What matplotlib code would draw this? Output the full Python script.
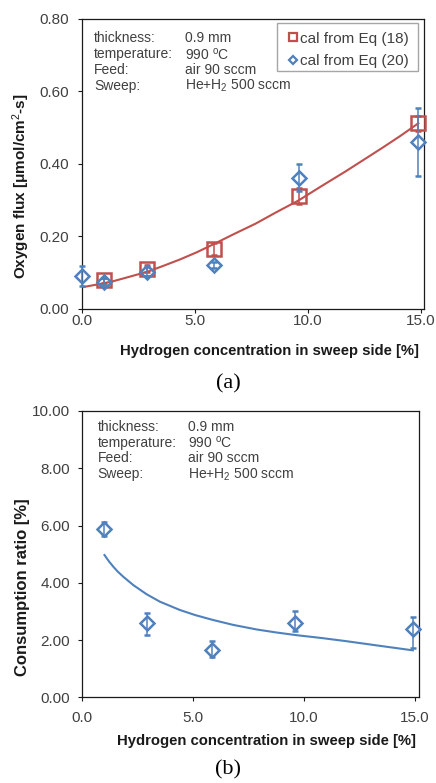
import matplotlib
matplotlib.use('Agg')
import matplotlib.pyplot as plt
from matplotlib.lines import Line2D
from matplotlib.patches import Rectangle

plt.rcParams['font.family'] = ['Liberation Sans', 'DejaVu Sans']
plt.rcParams['mathtext.fontset'] = 'custom'
plt.rcParams['mathtext.rm'] = 'Liberation Sans'
plt.rcParams['mathtext.it'] = 'Liberation Sans:italic'
plt.rcParams['mathtext.bf'] = 'Liberation Sans:bold'

# ---------------- data ----------------
# (a) oxygen flux
h2_eq18 = [1.0, 2.9, 5.85, 9.6, 14.9]
flux_eq18 = [0.078, 0.110, 0.164, 0.312, 0.512]
flux_eq18_err = [0.008, 0.010, 0.017, 0.022, 0.020]

h2_eq20 = [0.0, 1.0, 2.9, 5.85, 9.6, 14.9]
flux_eq20 = [0.090, 0.075, 0.102, 0.121, 0.362, 0.461]
flux_eq20_err = [0.028, 0.010, 0.012, 0.008, 0.037, 0.094]

fit_h2_a = [0.0, 0.7, 1.4, 2.1, 2.9, 3.6, 4.35, 5.1, 5.8, 6.7, 7.7, 8.6,
            9.6, 10.6, 11.7, 12.5, 13.3, 14.1, 14.9]
fit_flux_a = [0.059, 0.067, 0.076, 0.088, 0.102, 0.118, 0.136, 0.156, 0.177,
              0.205, 0.235, 0.266, 0.299, 0.338, 0.380, 0.412, 0.444, 0.477, 0.512]

# (b) consumption ratio
h2_b = [1.0, 2.9, 5.85, 9.6, 14.9]
ratio_b = [5.87, 2.58, 1.66, 2.60, 2.39]
ratio_err_low = [0.25, 0.40, 0.26, 0.30, 0.66]
ratio_err_high = [0.25, 0.38, 0.30, 0.42, 0.40]

fit_h2_b = [1.0, 1.2, 1.4, 1.6, 1.85, 2.3, 2.9, 3.5, 4.4, 5.1, 5.9, 6.8,
            7.86, 8.7, 9.66, 10.8, 11.91, 13.4, 14.91]
fit_ratio_b = [4.97, 4.75, 4.56, 4.39, 4.21, 3.92, 3.60, 3.34, 3.05, 2.87, 2.70,
               2.53, 2.37, 2.27, 2.17, 2.07, 1.96, 1.80, 1.64]

x_ticks = [0, 5, 10, 15]
x_ticklabels = ['0.0', '5.0', '10.0', '15.0']
ya_ticks = [0.0, 0.2, 0.4, 0.6, 0.8]
ya_ticklabels = ['0.00', '0.20', '0.40', '0.60', '0.80']
yb_ticks = [0, 2, 4, 6, 8, 10]
yb_ticklabels = ['0.00', '2.00', '4.00', '6.00', '8.00', '10.00']

legend_labels = ['cal from Eq (18)', 'cal from Eq (20)']
info_keys = ['thickness:', 'temperature:', 'Feed:', 'Sweep:']
info_vals = ['0.9 mm', r'990 $^{\mathrm{o}}$C', 'air 90 sccm', r'He+H$_{2}$ 500 sccm']

RED = '#C0504D'
BLUE = '#4F81BD'
TXT = '#404040'

W, H = 436, 783
fig = plt.figure(figsize=(W / 100, H / 100), dpi=100)
fig.patch.set_facecolor('white')


def fx(px):
    return px / W


def fy(py):
    return 1 - py / H


def style_axes(ax, xpad):
    for s in ax.spines.values():
        s.set_color('#1a1a1a')
        s.set_linewidth(0.9)
    ax.tick_params(axis='both', which='both', direction='out', length=3,
                   width=0.8, color='#1a1a1a', labelsize=11, labelcolor=TXT,
                   top=False, right=False)
    ax.tick_params(axis='y', pad=6)
    ax.tick_params(axis='x', pad=xpad)


# ---------------- (a) ----------------
ax1 = fig.add_axes([fx(81.7), fy(308.7), (424 - 81.7) / W, (308.7 - 19) / H])
ax1.plot(fit_h2_a, fit_flux_a, color=RED, lw=1.5, zorder=2)
ax1.errorbar(h2_eq18, flux_eq18, yerr=flux_eq18_err, fmt='s', ms=9.5,
             mfc='none', mec=RED, mew=1.8, ecolor=RED, elinewidth=1.1,
             capsize=2, capthick=1.1, clip_on=False, zorder=3)
ax1.errorbar(h2_eq20, flux_eq20, yerr=flux_eq20_err, fmt='D', ms=7.2,
             mfc='none', mec=BLUE, mew=1.8, ecolor=BLUE, elinewidth=1.1,
             capsize=2, capthick=1.1, clip_on=False, zorder=4)
ax1.set_xlim(0, 15.15)
ax1.set_ylim(0, 0.8)
ax1.set_xticks(x_ticks)
ax1.set_xticklabels(x_ticklabels)
ax1.set_yticks(ya_ticks)
ax1.set_yticklabels(ya_ticklabels)
style_axes(ax1, 0.5)

# legend frame
fig.patches.append(Rectangle((fx(276.7), fy(71)), (417.7 - 276.7) / W, (71 - 23.3) / H,
                             transform=fig.transFigure, facecolor='white',
                             edgecolor='#a6a6a6', linewidth=1.0, zorder=5))
handles = [Line2D([], [], ls='none', marker='s', ms=6, mfc='none', mec=RED, mew=1.6),
           Line2D([], [], ls='none', marker='D', ms=4.5, mfc='none', mec=BLUE, mew=1.6)]
leg = fig.legend(handles, legend_labels, loc='upper left',
                 bbox_to_anchor=(fx(287.3), fy(31.5)), fontsize=11,
                 frameon=False, handlelength=0.7, handletextpad=0.1,
                 borderpad=0, labelspacing=0.55, borderaxespad=0)
leg.set_zorder(6)
for t in leg.get_texts():
    t.set_color(TXT)

for i, (k, v) in enumerate(zip(info_keys, info_vals)):
    yc = 38.3 + i * 15.9
    fig.text(fx(94.3), fy(yc), k, fontsize=10, color=TXT, va='center', ha='left')
    fig.text(fx(185), fy(yc), v, fontsize=10, color=TXT, va='center', ha='left')

fig.text(fx(270), fy(351.5), 'Hydrogen concentration in sweep side [%]',
         fontsize=10.7, fontweight='bold', color='#1a1a1a', ha='center', va='center')
fig.text(fx(21), fy(186), 'Oxygen flux [μmol/cm$^{2}$-s]', rotation=90,
         fontsize=11, fontweight='bold', color='#1a1a1a', ha='center', va='center')
fig.text(fx(228), fy(384), '(a)', fontsize=16, family='Liberation Serif',
         color='black', ha='center', va='center')

# ---------------- (b) ----------------
ax2 = fig.add_axes([fx(82.3), fy(697.3), (419.3 - 82.3) / W, (697.3 - 411) / H])
ax2.plot(fit_h2_b, fit_ratio_b, color=BLUE, lw=1.5, zorder=2)
ax2.errorbar(h2_b, ratio_b, yerr=[ratio_err_low, ratio_err_high], fmt='D', ms=7.2,
             mfc='none', mec=BLUE, mew=1.8, ecolor=BLUE, elinewidth=1.1,
             capsize=2, capthick=1.1, clip_on=False, zorder=4)
ax2.set_xlim(0, 15.2)
ax2.set_ylim(0, 10)
ax2.set_xticks(x_ticks)
ax2.set_xticklabels(x_ticklabels)
ax2.set_yticks(yb_ticks)
ax2.set_yticklabels(yb_ticklabels)
style_axes(ax2, 7)

for i, (k, v) in enumerate(zip(info_keys, info_vals)):
    yc = 426.7 + i * 15.9
    fig.text(fx(97.7), fy(yc), k, fontsize=10, color=TXT, va='center', ha='left')
    fig.text(fx(187.7), fy(yc), v, fontsize=10, color=TXT, va='center', ha='left')

fig.text(fx(266.7), fy(741), 'Hydrogen concentration in sweep side [%]',
         fontsize=10.7, fontweight='bold', color='#1a1a1a', ha='center', va='center')
fig.text(fx(22), fy(586.7), 'Consumption ratio [%]', rotation=90,
         fontsize=12, fontweight='bold', color='#1a1a1a', ha='center', va='center')
fig.text(fx(228), fy(770), '(b)', fontsize=16, family='Liberation Serif',
         color='black', ha='center', va='center')

fig.savefig('out.png', dpi=100, facecolor='white')
